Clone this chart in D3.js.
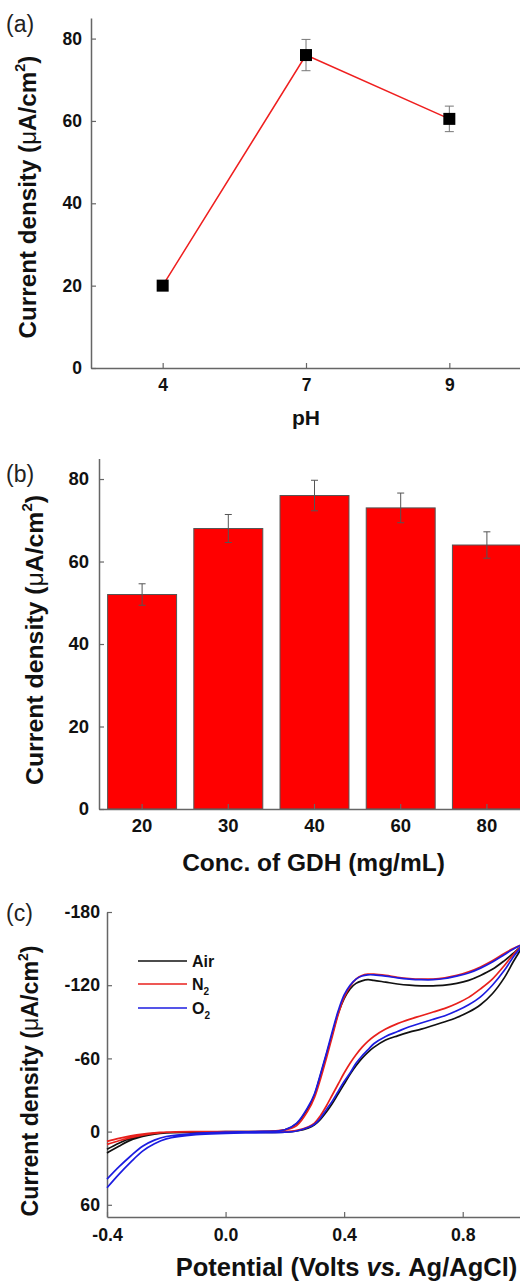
<!DOCTYPE html>
<html>
<head>
<meta charset="utf-8">
<script src="https://cdn.jsdelivr.net/npm/d3@7"></script>
<style>
  body { margin: 0; background: #fff; }
  text { font-family: "Liberation Sans", Arial, sans-serif; }
</style>
</head>
<body>
<svg id="fig" width="520" height="1283"></svg>
<script>
// ---------- (a) current density vs pH ----------
const phLabels = ["4", "7", "9"];
const phCurrent = [20, 76, 60.5];
const phError = [1, 3.8, 3.1];
const phTicks = [0, 20, 40, 60, 80];

// ---------- (b) current density vs GDH concentration ----------
const gdhLabels = ["20", "30", "40", "60", "80"];
const gdhCurrent = [52, 68, 76, 73, 64];
const gdhError = [2.6, 3.4, 3.7, 3.6, 3.2];
const gdhTicks = [0, 20, 40, 60, 80];

// ---------- (c) cyclic voltammograms ----------
const potential = [-0.4, -0.36, -0.32, -0.28, -0.24, -0.2, -0.1, 0.0, 0.1, 0.2,
  0.24, 0.28, 0.3, 0.32, 0.34, 0.36, 0.38, 0.4, 0.42, 0.44, 0.46, 0.48, 0.5,
  0.54, 0.58, 0.62, 0.66, 0.7, 0.74, 0.78, 0.82, 0.86, 0.9, 0.94, 0.97, 1.0];

const airForward = [17.5, 12, 7, 4, 2, 1, 0.5, 0, 0, -1.5,
  -6.5, -20, -30, -46, -63, -80, -97, -109, -117, -121.5, -123.5, -124.5, -124,
  -122.5, -121, -120, -119.5, -119.5, -120, -121.5, -124, -128, -133, -140, -146, -152];
const airReverse = [14.5, 9.5, 5.5, 3, 1.5, 1, 0.5, 0.5, 0.5, 0.5,
  -0.5, -3, -5.5, -10, -16, -23, -31, -39, -47, -54, -60, -65, -69,
  -75, -78.5, -81.5, -84, -87, -90, -93.5, -98, -104, -113, -126, -139, -152];

const n2Forward = [10.5, 7.5, 5, 3, 1.5, 0.5, 0, 0, 0, -1.5,
  -5, -18, -28, -43, -60, -78, -96, -110, -119, -125, -128, -129, -129,
  -128, -126.5, -125.5, -125, -125, -126, -128, -131, -135, -140, -146, -150, -153];
const n2Reverse = [8, 5.5, 3.5, 2, 1, 0.5, 0, 0, 0, 0,
  -1, -4, -7, -13, -21, -30, -39, -48, -56, -63, -69, -74, -78,
  -84, -88.5, -92, -95, -98, -101, -105, -110, -117, -125, -136, -145, -153];

const o2Forward = [39, 29, 20, 12, 7, 4, 1.5, 0.5, 0, -1.5,
  -7, -21, -31, -47, -64, -82, -99, -112, -120, -125, -127.5, -128.5, -128.5,
  -127.5, -126, -125, -124.5, -124.5, -125.5, -127.5, -130, -134, -139, -145, -149.5, -153];
const o2Reverse = [46, 35, 25, 16, 10, 6, 2.5, 1.5, 1, 0.5,
  -0.5, -3.5, -6, -11, -18, -25, -33, -41, -48, -56, -62, -67, -72,
  -78, -82, -86, -89, -92, -95, -99, -104, -110.5, -120, -132, -143, -153];

const cvSeries = ["Air", "N2", "O2"];
const cvTicksY = [-180, -120, -60, 0, 60];
const cvTicksX = [-0.4, 0.0, 0.4, 0.8];

const svg = d3.select("#fig");
const AXIS = "#666";
const RED = "#ef1f1f";

function styleAxis(g, fontSize) {
  g.select(".domain").attr("stroke", AXIS).attr("stroke-width", 1.5);
  g.selectAll(".tick line").attr("stroke", AXIS).attr("stroke-width", 1.2);
  g.selectAll(".tick text")
    .attr("fill", "#111")
    .attr("font-weight", "bold")
    .attr("font-size", fontSize)
    .attr("font-family", "'Liberation Sans', Arial, sans-serif");
}

// rotated "Current density (μA/cm²)" title
function yTitle(x, yc, size) {
  const t = svg.append("text")
    .attr("transform", `translate(${x},${yc}) rotate(-90)`)
    .attr("text-anchor", "middle")
    .attr("font-weight", "bold")
    .attr("font-size", size)
    .attr("fill", "#111");
  t.append("tspan").text("Current density (");
  t.append("tspan").attr("font-weight", "normal").text("\u03bc");
  t.append("tspan").text("A/cm");
  t.append("tspan").attr("font-size", size * 0.6).attr("dy", -size * 0.45).text("2");
  t.append("tspan").attr("dy", size * 0.45).text(")");
}

function panelTag(x, y, label) {
  svg.append("text")
    .attr("x", x).attr("y", y)
    .attr("font-family", "'Open Sans', 'DejaVu Sans', sans-serif")
    .attr("font-size", 23)
    .attr("fill", "#222")
    .text(label);
}

function errorBars(data, cxOf, y, half, color) {
  const eb = svg.append("g").attr("stroke", color).attr("stroke-width", 1);
  data.forEach(d => {
    const cx = cxOf(d);
    eb.append("line").attr("x1", cx).attr("x2", cx).attr("y1", y(d.v - d.e)).attr("y2", y(d.v + d.e));
    [d.v - d.e, d.v + d.e].forEach(v =>
      eb.append("line").attr("x1", cx - half).attr("x2", cx + half).attr("y1", y(v)).attr("y2", y(v)));
  });
}

// ================= (a) =================
{
  const x = d3.scalePoint().domain(phLabels).range([91, 521]).padding(0.5);
  const y = d3.scaleLinear().domain([0, 85]).range([368, 18]);

  const gx = svg.append("g").attr("transform", "translate(0,368)")
    .call(d3.axisBottom(x).tickSizeInner(-5).tickSizeOuter(0).tickPadding(11));
  styleAxis(gx, 17.5);
  const gy = svg.append("g").attr("transform", "translate(91,0)")
    .call(d3.axisLeft(y).tickValues(phTicks).tickSizeInner(-5).tickSizeOuter(0).tickPadding(9));
  styleAxis(gy, 17.5);

  const pts = phLabels.map((d, i) => ({ k: d, v: phCurrent[i], e: phError[i] }));
  svg.append("path").datum(pts)
    .attr("fill", "none").attr("stroke", RED).attr("stroke-width", 1.5)
    .attr("d", d3.line().x(d => x(d.k)).y(d => y(d.v)));

  errorBars(pts, d => x(d.k), y, 4.5, "#777");

  svg.append("g").selectAll("rect").data(pts).join("rect")
    .attr("x", d => x(d.k) - 6).attr("y", d => y(d.v) - 6)
    .attr("width", 12).attr("height", 12).attr("fill", "#000");

  svg.append("text").attr("x", 306).attr("y", 425).attr("text-anchor", "middle")
    .attr("font-weight", "bold").attr("font-size", 21).attr("fill", "#111").text("pH");
  yTitle(36, 197, 24.2);
  panelTag(6, 32, "(a)");
}

// ================= (b) =================
{
  const x = d3.scaleBand().domain(gdhLabels).range([99, 530]).paddingInner(0.2).paddingOuter(0.1);
  const y = d3.scaleLinear().domain([0, 85]).range([809, 458.4]);

  const bars = gdhLabels.map((d, i) => ({ k: d, v: gdhCurrent[i], e: gdhError[i] }));
  svg.append("g").selectAll("rect").data(bars).join("rect")
    .attr("x", d => x(d.k)).attr("y", d => y(d.v))
    .attr("width", x.bandwidth()).attr("height", d => y(0) - y(d.v))
    .attr("fill", "#ff0000").attr("stroke", "#555").attr("stroke-width", 1);

  errorBars(bars, d => x(d.k) + x.bandwidth() / 2, y, 3.5, "#555");

  const gx = svg.append("g").attr("transform", "translate(0,809)")
    .call(d3.axisBottom(x).tickSizeInner(-5).tickSizeOuter(0).tickPadding(10));
  styleAxis(gx, 18.5);
  const gy = svg.append("g").attr("transform", "translate(99,0)")
    .call(d3.axisLeft(y).tickValues(gdhTicks).tickSizeInner(-5).tickSizeOuter(0).tickPadding(10));
  styleAxis(gy, 18.5);

  svg.append("text").attr("x", 313.5).attr("y", 871).attr("text-anchor", "middle")
    .attr("font-weight", "bold").attr("font-size", 24.5).attr("fill", "#111").text("Conc. of GDH (mg/mL)");
  yTitle(43, 640, 24.8);
  panelTag(6, 482, "(b)");
}

// ================= (c) =================
{
  const x = d3.scaleLinear().domain([-0.4, 1.0]).range([107, 522]);
  const y = d3.scaleLinear().domain([70, -180]).range([1217, 912]);

  const gx = svg.append("g").attr("transform", "translate(0,1217)")
    .call(d3.axisBottom(x).tickValues(cvTicksX).tickFormat(d3.format(".1f"))
      .tickSizeInner(-5).tickSizeOuter(0).tickPadding(11));
  styleAxis(gx, 17.7);
  gx.selectAll(".tick text").text(d => d3.format(".1f")(d).replace("\u2212", "-"));
  const gy = svg.append("g").attr("transform", "translate(107,0)")
    .call(d3.axisLeft(y).tickValues(cvTicksY).tickSizeInner(-5).tickSizeOuter(0).tickPadding(7));
  styleAxis(gy, 17.7);
  gy.selectAll(".tick text").text(d => String(d));

  const loops = {
    Air: [airForward, airReverse],
    N2: [n2Forward, n2Reverse],
    O2: [o2Forward, o2Reverse]
  };
  const colors = { Air: "#111", N2: "#e8201c", O2: "#1c1ce0" };
  const line = d3.line().x(d => x(d[0])).y(d => y(d[1])).curve(d3.curveCatmullRom.alpha(0.5));

  cvSeries.forEach(s => {
    const [fwd, rev] = loops[s];
    const pts = potential.map((p, i) => [p, fwd[i]]);
    for (let i = potential.length - 2; i >= 0; i--) pts.push([potential[i], rev[i]]);
    svg.append("path").datum(pts)
      .attr("fill", "none").attr("stroke", colors[s]).attr("stroke-width", 1.7)
      .attr("d", line);
  });

  // legend
  const legendY = [961, 984, 1008];
  cvSeries.forEach((s, i) => {
    svg.append("line").attr("x1", 138).attr("x2", 187)
      .attr("y1", legendY[i]).attr("y2", legendY[i])
      .attr("stroke", colors[s]).attr("stroke-width", 1.7);
    const t = svg.append("text").attr("x", 192).attr("y", legendY[i] + 6)
      .attr("font-weight", "bold").attr("font-size", 16).attr("fill", "#111");
    if (s === "Air") t.text("Air");
    else {
      t.append("tspan").text(s[0]);
      t.append("tspan").attr("font-size", 10).attr("dy", 5).text("2");
    }
  });

  const xt = svg.append("text").attr("x", 346.5).attr("y", 1276).attr("text-anchor", "middle")
    .attr("font-weight", "bold").attr("font-size", 25.5).attr("fill", "#111");
  xt.append("tspan").text("Potential (Volts ");
  xt.append("tspan").attr("font-style", "italic").text("vs.");
  xt.append("tspan").text(" Ag/AgCl)");
  yTitle(38, 1081, 23.2);
  panelTag(6, 921, "(c)");
}
</script>
</body>
</html>
